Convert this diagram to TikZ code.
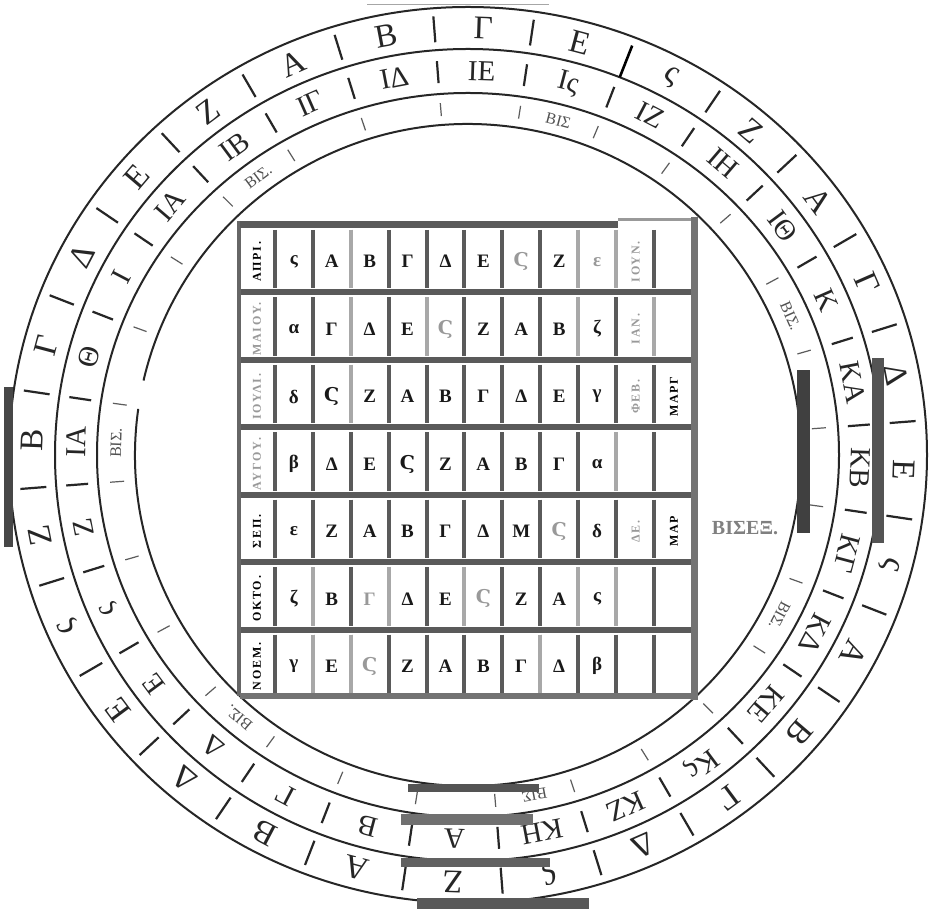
\documentclass[tikz,border=0pt]{standalone}
\usepackage{fontspec}
\setmainfont{Liberation Serif}
\newfontfamily\stigfont{DejaVu Serif}
\newfontfamily\lblfont[LetterSpace=15]{Liberation Serif}
\newcommand\St{{\stigfont Ϛ}}
\newcommand\gr[1]{\textcolor{black!40}{#1}}
\definecolor{ink}{HTML}{262626}
\definecolor{barA}{HTML}{5A5A5A}
\definecolor{barL}{HTML}{A8A8A8}
\tikzset{
  ringline/.style={draw=ink, line width=2pt},
  divline/.style={draw=ink, line width=2.2pt},
  tickline/.style={draw=ink!75, line width=1.2pt},
  outerlbl/.style={text=ink, font=\fontsize{33}{33}\selectfont, inner sep=0pt},
  midlbl/.style={text=ink, font=\fontsize{29}{29}\selectfont, inner sep=0pt},
  bislbl/.style={text=ink!80, font=\fontsize{16}{16}\selectfont, inner sep=0pt},
  cellltr/.style={text=black!90, font=\bfseries\fontsize{19}{19}\selectfont, inner sep=0pt},
  monlbl/.style={font=\lblfont\bfseries\fontsize{12}{12}\selectfont, inner sep=0pt, rotate=90},
  rowsep/.style={draw=barA, line width=6pt},
  colbar/.style={draw=barA, line width=4pt},
  colbarL/.style={draw=barL, line width=4pt},
}
\begin{document}
\begin{tikzpicture}[x=1pt,y=1pt]
\useasboundingbox (0,0) rectangle (936,909);
\fill[white] (0,0) rectangle (936,909);
% ---------------- rings ----------------
\begin{scope}[shift={(468,454)}]
  \draw[ringline] (0,0) ellipse [x radius=459, y radius=448];
  \draw[ringline] (0,0) ellipse [x radius=413, y radius=406];
  \draw[ringline] (0,0) ellipse [x radius=371, y radius=362];
  \draw[ringline] (172:333 and 331) arc [start angle=172, end angle=527, x radius=333, y radius=331];
  \foreach \t [count=\k from 0] in {Β,Γ,Δ,Ε,Ζ,Α,Β,Γ,Ε,ς,Ζ,Α,Γ,Δ,Ε,ς,Α,Β,Γ,Δ,ς,Ζ,Α,Β,Δ,Ε,ς,Ζ}{
    \pgfmathsetmacro\a{178-360/28*\k}
    \node[outerlbl, rotate=\a-90] (o\k) at (\a:436 and 427) {\t};
  }
  \foreach \t [count=\k from 0] in {ΙΑ,Θ,Ι,ΙΑ,ΙΒ,ΙΓ,ΙΔ,ΙΕ,Ις,ΙΖ,ΙΗ,ΙΘ,Κ,ΚΑ,ΚΒ,ΚΓ,ΚΔ,ΚΕ,Κς,ΚΖ,ΚΗ,Α,Β,Γ,Δ,Ε,ς,Ζ}{
    \pgfmathsetmacro\a{178-360/28*\k}
    \node[midlbl, rotate=\a-90] (m\k) at (\a:392 and 384) {\t};
  }
  \foreach \k/\t in {0/ΒΙΣ., 4/ΒΙΣ., 8/ΒΙΣ, 12/ΒΙΣ., 16/ΒΙΣ., 20/ΒΙΣ, 24/ΒΙΣ.}{
    \pgfmathsetmacro\a{178-360/28*\k}
    \node[bislbl, rotate=\a-90] (b\k) at (\a:352 and 346) {\t};
  }
  \foreach \k in {0,...,27}{
    \pgfmathsetmacro\b{178-360/28*(\k+0.5)}
    \ifnum\k=8\else \draw[divline] (\b:423 and 414) -- (\b:449 and 440); \fi
    \draw[divline] (\b:381 and 373) -- (\b:403 and 395);
    \draw[tickline] (\b:345 and 340) -- (\b:359 and 353);
  }
  \draw[black, line width=2.6pt] (68.5:414 and 406) -- (68.5:448 and 440);
\end{scope}
\draw[black!35, line width=1pt] (367,904) -- (549,904);
% ---------------- table (image coordinates) ----------------
\begin{scope}[shift={(0,909)}, yscale=-1]
  \foreach \j in {1,...,6}{
    \pgfmathsetmacro\yy{225+67.43*\j}
    \draw[rowsep] (240,\yy) -- (692,\yy);
  }
  \foreach \j in {1,...,7}{
    \pgfmathsetmacro\ya{225+67.43*(\j-1)+5}
    \pgfmathsetmacro\yb{225+67.43*\j-4}
    \foreach \i in {1,...,11}{
      \pgfmathsetmacro\xx{237+37.9*\i}
      \draw[colbar] (\xx,\ya) -- (\xx,\yb);
    }
  }
  \foreach \j/\i in {1/3,1/9,1/10,2/3,2/5,2/9,2/11,3/3,4/10,6/2,6/4,6/6,6/9,6/10,7/2,7/3,7/8}{
    \pgfmathsetmacro\ya{225+67.43*(\j-1)+5}
    \pgfmathsetmacro\yb{225+67.43*\j-4}
    \pgfmathsetmacro\xx{237+37.9*\i}
    \draw[colbarL] (\xx,\ya) -- (\xx,\yb);
  }
  \draw[draw=black!60, line width=4pt] (239,221) -- (239,696);
  \draw[draw=barA, line width=7pt] (240,225) -- (618,225);
  \draw[draw=black!40, line width=3pt] (618,220) -- (694,220);
  \draw[draw=black!55, line width=7pt] (694,217) -- (694,700);
  \draw[draw=black!55, line width=6pt] (240,696) -- (692,696);
  \foreach \j/\lab/\cells/\lb/\lc in {
    1/{ΑΠΡΙ.}/{ς,Α,Β,Γ,Δ,Ε,\gr{\St},Ζ,\gr{ε}}/{\gr{ΙΟΥΝ.}}/{},
    2/{\gr{ΜΑΙΟΥ.}}/{α,Γ,Δ,Ε,\gr{\St},Ζ,Α,Β,ζ}/{\gr{ΙΑΝ.}}/{},
    3/{\gr{ΙΟΥΛΙ.}}/{δ,\St,Ζ,Α,Β,Γ,Δ,Ε,γ}/{\gr{ΦΕΒ.}}/{ΜΑΡΓ},
    4/{\gr{ΑΥΓΟΥ.}}/{β,Δ,Ε,\St,Ζ,Α,Β,Γ,α}/{}/{},
    5/{ΣΕΠ.}/{ε,Ζ,Α,Β,Γ,Δ,Μ,\gr{\St},δ}/{\gr{ΔΕ.}}/{ΜΑΡ},
    6/{ΟΚΤΟ.}/{ζ,Β,\gr{Γ},Δ,Ε,\gr{\St},Ζ,Α,ς}/{}/{},
    7/{ΝΟΕΜ.}/{γ,Ε,\gr{\St},Ζ,Α,Β,Γ,Δ,β}/{}/{}}{
    \pgfmathsetmacro\yc{225+67.43*(\j-0.5)+3}
    \node[monlbl] (r\j a) at (257,\yc) {\lab};
    \foreach \t [count=\m from 2] in \cells {
      \pgfmathsetmacro\xc{237+37.9*(\m-0.5)}
      \node[cellltr] (c\j-\m) at (\xc,\yc) {\t};
    }
    \node[monlbl] (r\j b) at (635.8,\yc) {\lb};
    \node[monlbl] (r\j c) at (674,\yc) {\lc};
  }
  \node[text=black!50, font=\bfseries\fontsize{20}{20}\selectfont, inner sep=0pt] (bisex) at (745,528) {ΒΙΣΕΞ.};
  % dark bars
  \fill[black!72] (4,387) rectangle (13,547);
  \fill[black!75] (797,370) rectangle (810,533);
  \fill[black!67] (872,358) rectangle (884,543);
  \fill[black!67] (408,784) rectangle (539,792);
  \fill[black!56] (401,814) rectangle (533,825);
  \fill[black!62] (401,858) rectangle (550,867);
  \fill[black!65] (417,898) rectangle (589,909);
\end{scope}
\end{tikzpicture}
\end{document}
